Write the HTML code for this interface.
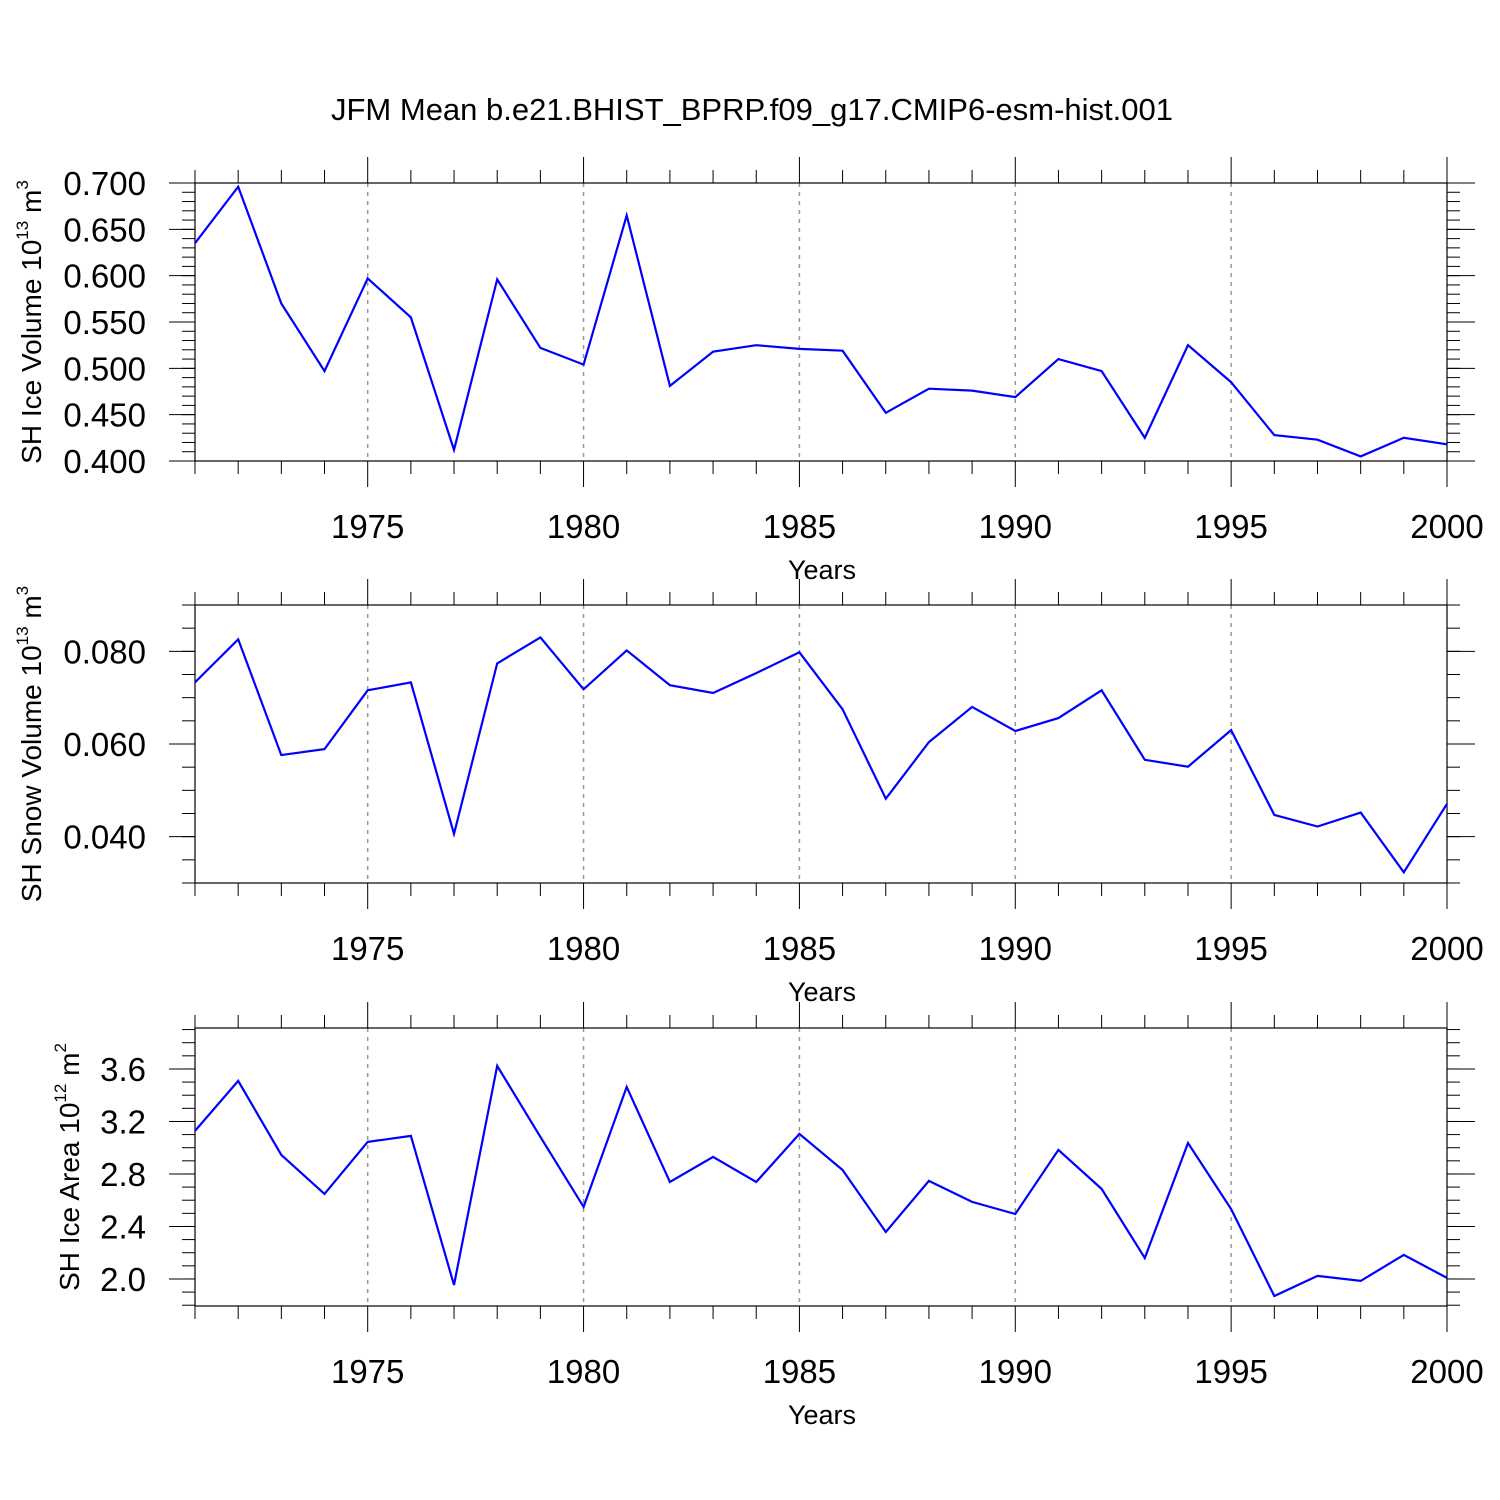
<!DOCTYPE html>
<html><head><meta charset="utf-8"><style>
html,body{margin:0;padding:0;background:#fff;}
svg{display:block;font-family:"Liberation Sans",sans-serif;}
</style></head>
<body>
<svg id="chart" width="1500" height="1500" viewBox="0 0 1500 1500">
<text x="752" y="120" text-anchor="middle" font-size="31">JFM Mean b.e21.BHIST_BPRP.f09_g17.CMIP6-esm-hist.001</text>
</svg>
<script>
const years = [1971,1972,1973,1974,1975,1976,1977,1978,1979,1980,1981,1982,1983,1984,1985,1986,1987,1988,1989,1990,1991,1992,1993,1994,1995,1996,1997,1998,1999,2000];
const iceVolume = [0.635,0.696,0.570,0.497,0.597,0.555,0.412,0.596,0.522,0.504,0.665,0.481,0.518,0.525,0.521,0.519,0.452,0.478,0.476,0.469,0.510,0.497,0.425,0.525,0.485,0.428,0.423,0.405,0.425,0.418];
const snowVolume = [0.0733,0.0826,0.0576,0.0589,0.0716,0.0733,0.0406,0.0774,0.0830,0.0718,0.0802,0.0727,0.0710,0.0753,0.0798,0.0675,0.0482,0.0604,0.0680,0.0628,0.0656,0.0716,0.0566,0.0551,0.0630,0.0447,0.0422,0.0452,0.0323,0.0471];
const iceArea = [3.128,3.509,2.945,2.648,3.044,3.090,1.954,3.623,3.082,2.549,3.463,2.739,2.930,2.739,3.105,2.830,2.358,2.747,2.587,2.495,2.983,2.686,2.160,3.036,2.533,1.870,2.023,1.985,2.183,2.008];
const xTickYears = [1975,1980,1985,1990,1995,2000];
const iceVolTicks = ["0.400","0.450","0.500","0.550","0.600","0.650","0.700"];
const snowTicks = ["0.040","0.060","0.080"];
const areaTicks = ["2.0","2.4","2.8","3.2","3.6"];

const svg = document.getElementById('chart');
const NS = 'http://www.w3.org/2000/svg';
function mk(tag, attrs, parent){
  const e = document.createElementNS(NS, tag);
  for (const k in attrs) e.setAttribute(k, attrs[k]);
  (parent||svg).appendChild(e);
  return e;
}
const X0 = 195, X1 = 1447, YR0 = 1971, YR1 = 2000;
const xs = y => X0 + (y - YR0) / (YR1 - YR0) * (X1 - X0);

function panel(cfg){
  const g = mk('g', {});
  
  
  const ys = v => cfg.bottom - (v - cfg.min) / (cfg.max - cfg.min) * (cfg.bottom - cfg.top);
  xTickYears.forEach(yr => {
    if (yr >= YR1) return;
    const l = mk('line', {x1:xs(yr), x2:xs(yr), y1:cfg.top, y2:cfg.bottom, stroke:'#999', 'stroke-width':1.5, 'stroke-dasharray':'4,5'}, g);
    
    
  });
  years.forEach(yr => {
    const major = yr % 5 === 0;
    const len = major ? 26 : 13;
    const x = xs(yr);
    mk('line', {x1:x, x2:x, y1:cfg.top, y2:cfg.top - len, stroke:'#000', 'stroke-width':1}, g);
    mk('line', {x1:x, x2:x, y1:cfg.bottom, y2:cfg.bottom + len, stroke:'#000', 'stroke-width':1}, g);
  });
  xTickYears.forEach(yr => {
    const t = mk('text', {x:xs(yr), y:cfg.bottom + 77, 'text-anchor':'middle', 'font-size':33}, g);
    t.textContent = yr;
    
    
  });
  const xt = mk('text', {x:822, y:cfg.bottom + 118, 'text-anchor':'middle', 'font-size':27}, g);
  xt.textContent = 'Years';
  
  
  const start = Math.ceil(cfg.min / cfg.minor - 1e-6);
  for (let i = start; i * cfg.minor <= cfg.max + 1e-9; i++){
    const y = ys(i * cfg.minor);
    mk('line', {x1:X0, x2:X0 - 13, y1:y, y2:y, stroke:'#000', 'stroke-width':1}, g);
    mk('line', {x1:X1, x2:X1 + 13, y1:y, y2:y, stroke:'#000', 'stroke-width':1}, g);
  }
  cfg.ticks.forEach(s => {
    const y = ys(parseFloat(s));
    mk('line', {x1:X0, x2:X0 - 26, y1:y, y2:y, stroke:'#000', 'stroke-width':1}, g);
    mk('line', {x1:X1, x2:X1 + 28, y1:y, y2:y, stroke:'#000', 'stroke-width':1}, g);
    const t = mk('text', {x:146, y:y + 12, 'text-anchor':'end', 'font-size':33}, g);
    t.textContent = s;
    
    
  });
  const f = mk('rect', {x:X0, y:cfg.top, width:X1 - X0, height:cfg.bottom - cfg.top, fill:'none', stroke:'#000', 'stroke-width':1.2}, g);
  
  
  const d = cfg.data.map((v, i) => (i ? 'L' : 'M') + xs(years[i]).toFixed(1) + ',' + ys(v).toFixed(1)).join(' ');
  const p = mk('path', {d:d, fill:'none', stroke:'#0000ff', 'stroke-width':2.2, 'stroke-linejoin':'miter'}, g);
  
  
  const cy = (cfg.top + cfg.bottom) / 2;
  const yt = mk('text', {x:cfg.titleX, y:cy, 'text-anchor':'middle', 'font-size':28, transform:'rotate(-90 ' + cfg.titleX + ' ' + cy + ')'}, g);
  yt.innerHTML = cfg.title + ' 10<tspan font-size="17" dy="-13">' + cfg.exp + '</tspan><tspan dy="13"> m</tspan><tspan font-size="17" dy="-13">' + cfg.unitExp + '</tspan>';
  
  
}
panel({name:'ice-volume', top:183, bottom:461, min:0.4, max:0.7, minor:0.01, ticks:iceVolTicks, data:iceVolume, title:'SH Ice Volume', exp:'13', unitExp:'3', titleX:41});
panel({name:'snow-volume', top:605, bottom:883, min:0.03, max:0.09, minor:0.005, ticks:snowTicks, data:snowVolume, title:'SH Snow Volume', exp:'13', unitExp:'3', titleX:41});
panel({name:'ice-area', top:1028, bottom:1306, min:1.794, max:3.912, minor:0.1, ticks:areaTicks, data:iceArea, title:'SH Ice Area', exp:'12', unitExp:'2', titleX:79});
</script>
</body></html>
